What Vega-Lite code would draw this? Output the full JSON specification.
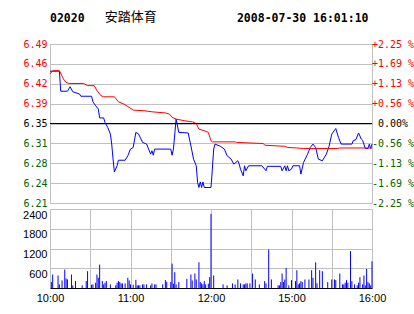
{
  "$schema": "https://vega.github.io/schema/vega-lite/v6.json",
  "padding": {"left": 0, "right": 0, "top": 10, "bottom": 0},
  "background": "white",
  "spacing": 6,
  "bounds": "flush",
  "config": {
    "view": {"stroke": "#c0c0c0", "strokeWidth": 1},
    "axis": {"gridColor": "#c0c0c0", "gridOpacity": 1, "gridWidth": 1, "domain": false, "ticks": false, "labelPadding": 2, "title": null}
  },
  "datasets": {
    "price": [
      {"t":0,"p":6.444},{"t":7,"p":6.444},{"t":8,"p":6.408},{"t":13,"p":6.408},{"t":15,"p":6.416},{"t":17,"p":6.407},{"t":22,"p":6.403},{"t":23,"p":6.399},{"t":31,"p":6.399},{"t":32,"p":6.389},{"t":34,"p":6.382},{"t":36,"p":6.376},{"t":37,"p":6.360},{"t":40,"p":6.360},{"t":41,"p":6.352},{"t":43,"p":6.343},{"t":45,"p":6.331},{"t":46,"p":6.313},{"t":47,"p":6.286},{"t":48,"p":6.263},{"t":50,"p":6.274},{"t":51,"p":6.284},{"t":56,"p":6.284},{"t":58,"p":6.292},{"t":60,"p":6.304},{"t":62,"p":6.307},{"t":64,"p":6.334},{"t":66,"p":6.331},{"t":69,"p":6.316},{"t":72,"p":6.313},{"t":75,"p":6.295},{"t":76,"p":6.301},{"t":77,"p":6.293},{"t":78,"p":6.304},{"t":90,"p":6.304},{"t":91,"p":6.293},{"t":92,"p":6.304},{"t":94,"p":6.358},{"t":96,"p":6.334},{"t":103,"p":6.333},{"t":105,"p":6.310},{"t":107,"p":6.286},{"t":109,"p":6.274},{"t":110,"p":6.244},{"t":111,"p":6.235},{"t":112,"p":6.245},{"t":113,"p":6.235},{"t":114,"p":6.245},{"t":115,"p":6.235},{"t":120,"p":6.235},{"t":121,"p":6.268},{"t":122,"p":6.304},{"t":123,"p":6.313},{"t":127,"p":6.309},{"t":130,"p":6.304},{"t":132,"p":6.292},{"t":135,"p":6.286},{"t":137,"p":6.277},{"t":140,"p":6.283},{"t":141,"p":6.277},{"t":142,"p":6.268},{"t":144,"p":6.256},{"t":145,"p":6.274},{"t":146,"p":6.265},{"t":148,"p":6.274},{"t":158,"p":6.274},{"t":161,"p":6.265},{"t":162,"p":6.273},{"t":172,"p":6.273},{"t":173,"p":6.265},{"t":175,"p":6.274},{"t":176,"p":6.265},{"t":177,"p":6.274},{"t":178,"p":6.265},{"t":180,"p":6.268},{"t":181,"p":6.274},{"t":186,"p":6.274},{"t":187,"p":6.259},{"t":189,"p":6.280},{"t":192,"p":6.295},{"t":194,"p":6.307},{"t":196,"p":6.313},{"t":198,"p":6.307},{"t":200,"p":6.286},{"t":203,"p":6.283},{"t":206,"p":6.295},{"t":208,"p":6.309},{"t":210,"p":6.331},{"t":213,"p":6.341},{"t":215,"p":6.325},{"t":217,"p":6.313},{"t":225,"p":6.313},{"t":226,"p":6.319},{"t":228,"p":6.321},{"t":230,"p":6.333},{"t":232,"p":6.322},{"t":233,"p":6.320},{"t":235,"p":6.305},{"t":237,"p":6.305},{"t":238,"p":6.313},{"t":239,"p":6.305},{"t":240,"p":6.313}
    ],
    "avg": [
      {"t":0,"p":6.439},{"t":2,"p":6.445},{"t":7,"p":6.445},{"t":10,"p":6.430},{"t":12,"p":6.424},{"t":14,"p":6.422},{"t":25,"p":6.422},{"t":28,"p":6.418},{"t":33,"p":6.418},{"t":35,"p":6.409},{"t":38,"p":6.400},{"t":40,"p":6.398},{"t":48,"p":6.398},{"t":49,"p":6.395},{"t":51,"p":6.389},{"t":55,"p":6.385},{"t":59,"p":6.379},{"t":62,"p":6.374},{"t":70,"p":6.373},{"t":76,"p":6.371},{"t":86,"p":6.369},{"t":89,"p":6.367},{"t":91,"p":6.361},{"t":94,"p":6.358},{"t":100,"p":6.355},{"t":106,"p":6.353},{"t":109,"p":6.350},{"t":111,"p":6.340},{"t":115,"p":6.337},{"t":118,"p":6.334},{"t":120,"p":6.319},{"t":121,"p":6.317},{"t":138,"p":6.317},{"t":139,"p":6.316},{"t":159,"p":6.314},{"t":160,"p":6.311},{"t":175,"p":6.309},{"t":177,"p":6.307},{"t":184,"p":6.306},{"t":189,"p":6.305},{"t":214,"p":6.305},{"t":216,"p":6.306},{"t":240,"p":6.306}
    ],
    "vol": [
      {"t":1,"v":180},{"t":2,"v":410},{"t":6,"v":380},{"t":7,"v":110},{"t":9,"v":230},{"t":11,"v":560},{"t":12,"v":290},{"t":13,"v":260},{"t":16,"v":410},{"t":17,"v":80},{"t":19,"v":210},{"t":24,"v":80},{"t":27,"v":210},{"t":28,"v":510},{"t":31,"v":100},{"t":32,"v":110},{"t":34,"v":160},{"t":35,"v":410},{"t":36,"v":310},{"t":37,"v":710},{"t":39,"v":210},{"t":40,"v":110},{"t":41,"v":160},{"t":42,"v":210},{"t":45,"v":110},{"t":49,"v":80},{"t":50,"v":160},{"t":51,"v":210},{"t":52,"v":180},{"t":53,"v":140},{"t":54,"v":140},{"t":56,"v":140},{"t":58,"v":310},{"t":59,"v":230},{"t":60,"v":110},{"t":62,"v":100},{"t":64,"v":250},{"t":65,"v":80},{"t":66,"v":80},{"t":67,"v":80},{"t":69,"v":110},{"t":70,"v":110},{"t":72,"v":110},{"t":75,"v":80},{"t":76,"v":140},{"t":78,"v":110},{"t":79,"v":110},{"t":84,"v":110},{"t":86,"v":240},{"t":87,"v":190},{"t":90,"v":180},{"t":91,"v":740},{"t":92,"v":130},{"t":93,"v":480},{"t":94,"v":110},{"t":96,"v":180},{"t":102,"v":280},{"t":105,"v":410},{"t":106,"v":230},{"t":108,"v":440},{"t":109,"v":260},{"t":111,"v":780},{"t":112,"v":180},{"t":113,"v":140},{"t":114,"v":110},{"t":115,"v":210},{"t":116,"v":110},{"t":118,"v":130},{"t":119,"v":330},{"t":120,"v":2250},{"t":122,"v":380},{"t":129,"v":110},{"t":132,"v":80},{"t":136,"v":140},{"t":138,"v":110},{"t":140,"v":260},{"t":142,"v":140},{"t":144,"v":110},{"t":145,"v":110},{"t":146,"v":140},{"t":147,"v":140},{"t":149,"v":140},{"t":151,"v":440},{"t":153,"v":260},{"t":156,"v":110},{"t":160,"v":210},{"t":161,"v":140},{"t":163,"v":1170},{"t":165,"v":260},{"t":170,"v":80},{"t":171,"v":80},{"t":172,"v":180},{"t":173,"v":440},{"t":174,"v":180},{"t":175,"v":260},{"t":176,"v":610},{"t":178,"v":80},{"t":180,"v":240},{"t":183,"v":210},{"t":184,"v":540},{"t":185,"v":110},{"t":186,"v":140},{"t":187,"v":210},{"t":188,"v":180},{"t":190,"v":260},{"t":193,"v":260},{"t":195,"v":540},{"t":196,"v":310},{"t":198,"v":780},{"t":199,"v":140},{"t":201,"v":540},{"t":203,"v":510},{"t":207,"v":180},{"t":210,"v":260},{"t":212,"v":260},{"t":213,"v":240},{"t":216,"v":440},{"t":218,"v":110},{"t":219,"v":110},{"t":220,"v":160},{"t":221,"v":240},{"t":222,"v":160},{"t":224,"v":1120},{"t":225,"v":210},{"t":227,"v":110},{"t":229,"v":80},{"t":230,"v":160},{"t":231,"v":330},{"t":233,"v":110},{"t":234,"v":380},{"t":235,"v":80},{"t":236,"v":580},{"t":237,"v":180},{"t":238,"v":140},{"t":239,"v":80},{"t":240,"v":810}
    ]
  },
  "vconcat": [
    {
      "width": 322,
      "height": 159,
      "title": {
        "text": "02020\u00a0\u00a0\u00a0\u00a0\u00a0\u00a0\u00a0\u00a0\u00a0\u00a0\u00a0\u00a0\u00a0\u00a0\u00a0\u00a0\u00a0\u00a0\u00a0\u00a0\u00a0\u00a02008-07-30\u00a016:01:10",
        "subtitle": "\u200b\u00a0\u00a0\u00a0\u00a0\u00a0\u00a0\u00a0安踏体育",
        "anchor": "start",
        "frame": "group",
        "font": "DejaVu Sans Mono",
        "fontSize": 11.5,
        "fontWeight": "bold",
        "color": "#000000",
        "subtitleFont": "DejaVu Sans Mono, Noto Sans CJK SC",
        "subtitleFontSize": 13,
        "subtitleFontWeight": "normal",
        "subtitleColor": "#000000",
        "subtitlePadding": -14,
        "offset": 12
      },
      "layer": [
        {
          "data": {"name": "price"},
          "mark": {"type": "line", "color": "#0000ff", "strokeWidth": 1},
          "encoding": {
            "x": {"field": "t", "type": "quantitative", "scale": {"domain": [0, 240], "nice": false, "zero": false},
                  "axis": {"values": [0,30,60,90,120,150,180,210,240], "labels": false, "domain": true, "domainColor": "#000000", "grid": true, "minExtent": 0, "maxExtent": 0}},
            "y": {"field": "p", "type": "quantitative", "scale": {"domain": [6.20712, 6.49288], "nice": false, "zero": false},
                  "axis": {"values": [6.20712,6.24284,6.27856,6.31428,6.35,6.38572,6.42144,6.45716,6.49288], "format": ".2f", "grid": true,
                           "labelFont": "DejaVu Sans Mono", "labelFontSize": 10, "labelPadding": 3, "minExtent": 49, "maxExtent": 49, "labelFlush": false,
                           "labelColor": {"condition": [{"test": "datum.value > 6.36", "value": "#ff0000"}, {"test": "datum.value < 6.34", "value": "#006400"}], "value": "#000000"}}}
          }
        },
        {
          "data": {"name": "avg"},
          "mark": {"type": "line", "color": "#ff0000", "strokeWidth": 1},
          "encoding": {
            "x": {"field": "t", "type": "quantitative", "scale": {"domain": [0, 240], "nice": false, "zero": false}, "axis": null},
            "y": {"field": "p", "type": "quantitative", "scale": {"domain": [6.20712, 6.49288], "nice": false, "zero": false},
                  "axis": {"orient": "right", "values": [6.20712,6.24284,6.27856,6.31428,6.35,6.38572,6.42144,6.45716,6.49288], "grid": false, "labelFlush": false,
                           "labelExpr": "['-2.25 %','-1.69 %','-1.13 %','-0.56 %','0.00%','+0.56 %','+1.13 %','+1.69 %','+2.25 %'][round((datum.value/6.35-1)/0.005625)+4]",
                           "labelFont": "DejaVu Sans Mono", "labelFontSize": 10, "labelAlign": "center", "labelPadding": 20.5,
                           "labelColor": {"condition": [{"test": "datum.value > 6.36", "value": "#ff0000"}, {"test": "datum.value < 6.34", "value": "#006400"}], "value": "#000000"}}}
          }
        },
        {
          "data": {"values": [{}]},
          "mark": {"type": "rule", "color": "#000000", "strokeWidth": 1},
          "encoding": {"y": {"datum": 6.35, "axis": null}}
        }
      ],
      "resolve": {"axis": {"y": "independent"}}
    },
    {
      "width": 322,
      "height": 79,
      "data": {"name": "vol"},
      "mark": {"type": "rule", "color": "#0000ff", "strokeWidth": 1},
      "encoding": {
        "x": {"field": "t", "type": "quantitative", "scale": {"domain": [0, 240], "nice": false, "zero": false},
              "axis": {"values": [0,30,60,90,120,150,180,210,240], "grid": true, "domain": true, "domainColor": "#000000", "labelFlush": false,
                       "labelExpr": "datum.value==0?'10:00':datum.value==60?'11:00':datum.value==120?'12:00':datum.value==180?'15:00':datum.value==240?'16:00':''",
                       "labelFont": "Liberation Sans", "labelFontSize": 11, "labelColor": "#000000", "labelPadding": 4}},
        "y": {"field": "v", "type": "quantitative", "scale": {"domain": [0, 2400], "nice": false},
              "axis": {"values": [600,1200,1800,2400], "format": "d", "grid": true, "labelFont": "Liberation Sans", "labelFontSize": 11, "labelColor": "#000000", "labelPadding": 3, "labelBaseline": "top", "labelFlush": false, "minExtent": 49, "maxExtent": 49}},
        "y2": {"datum": 0}
      }
    }
  ]
}
